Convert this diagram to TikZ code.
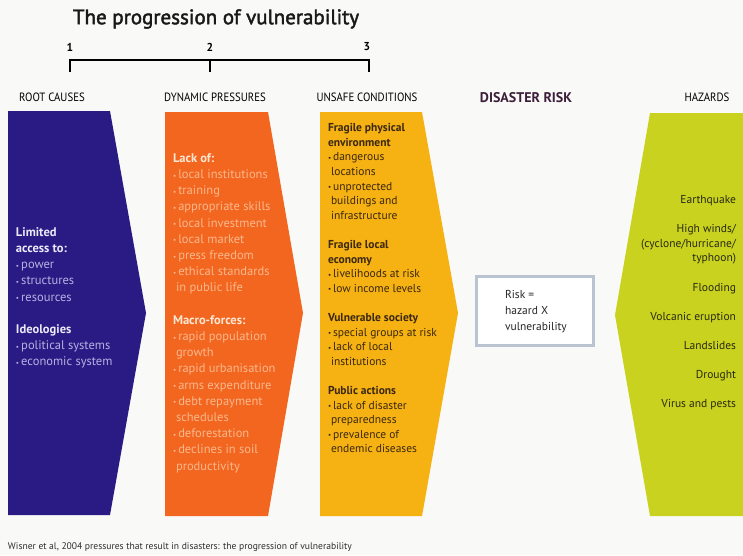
\documentclass[tikz,border=0pt]{standalone}
\usepackage{fontspec}
\setmainfont{PT Sans}
\newfontfamily\titlefont{PT Sans}[FakeBold=2]
\newfontfamily\condfont{PT Sans}[FakeStretch=0.9]
\definecolor{paper}{RGB}{249,249,247}
\definecolor{rootblue}{RGB}{42,27,132}
\definecolor{rootlight}{RGB}{184,176,226}
\definecolor{rootwhite}{RGB}{236,234,248}
\definecolor{dynorange}{RGB}{242,102,32}
\definecolor{dynlight}{RGB}{250,184,140}
\definecolor{dyncream}{RGB}{254,232,212}
\definecolor{unsafeyellow}{RGB}{246,177,18}
\definecolor{unsafeink}{RGB}{58,40,16}
\definecolor{hazardgreen}{RGB}{201,210,30}
\definecolor{hazardink}{RGB}{40,40,20}
\definecolor{riskink}{RGB}{60,30,58}
\definecolor{boxgrey}{RGB}{186,196,208}
\definecolor{inkgrey}{RGB}{45,45,45}
\newcommand{\bul}{{\scriptsize\raisebox{0.15ex}{•}}\,}
\newcommand{\cont}{\hspace{3pt}}
\begin{document}
\begin{tikzpicture}[x=1pt,y=-1pt,
  every node/.style={inner sep=0pt, outer sep=0pt},
  colhead/.style={font=\condfont\fontsize{12}{14}\selectfont, text=black},
  blocktext/.style={anchor=north west, align=left},
  bigtext/.style={blocktext, font=\fontsize{12.5}{16.2}\selectfont},
  smalltext/.style={blocktext, font=\fontsize{11.5}{14.6}\selectfont},
  stage/.style={font=\bfseries\fontsize{11.5}{13}\selectfont},
]
\useasboundingbox (0,0) rectangle (743,555);
\fill[paper] (0,0) rectangle (743,555);

% title and the 1-2-3 bracket (ticks hang down from the bar)
\node[font=\titlefont\fontsize{21}{24}\selectfont, text=black!90] (title) at (216,19) {The progression of vulnerability};
\coordinate (b1) at (70,60);
\coordinate (b2) at (210,60);
\coordinate (b3) at (369,60);
\coordinate (t1) at (70,72);
\coordinate (t2) at (210,72);
\coordinate (t3) at (369,72);
\draw[line width=2pt] (t1) -- (b1) -- (b3) -- (t3);
\draw[line width=2pt] (b2) -- (t2);
\node[stage] (n1) at (70,47) {1};
\node[stage] (n2) at (210,47) {2};
\node[stage] (n3) at (367,47) {3};

% column headings
\node[colhead] (hroot) at (52,97) {ROOT CAUSES};
\node[colhead] (hdyn) at (215,97) {DYNAMIC PRESSURES};
\node[colhead] (hunsafe) at (367,97) {UNSAFE CONDITIONS};
\node[font=\bfseries\fontsize{14}{16}\selectfont, text=riskink] (hrisk) at (526,98) {DISASTER RISK};
\node[colhead] (hhaz) at (707,97) {HAZARDS};

% chevron bands
\fill[rootblue] (8,111) -- (110,111) -- (146,313) -- (110,515) -- (8,515) -- cycle;
\fill[dynorange] (165,112) -- (268,112) -- (303,313) -- (268,516) -- (165,516) -- cycle;
\fill[unsafeyellow] (320,112) -- (422,112) -- (458,313) -- (422,516) -- (320,516) -- cycle;
\fill[hazardgreen] (650,113) -- (743,113) -- (743,516) -- (650,516) -- (615,315) -- cycle;

% root causes
\node[bigtext, text=rootlight] (roottext) at (16,227.5) {%
  \textcolor{rootwhite}{\bfseries Limited}\\
  \textcolor{rootwhite}{\bfseries access to:}\\
  \bul power\\
  \bul structures\\
  \bul resources\\[16.2pt]
  \textcolor{rootwhite}{\bfseries Ideologies}\\
  \bul political systems\\
  \bul economic system};

% dynamic pressures
\node[bigtext, text=dynlight] (dyntext) at (173,153.5) {%
  \textcolor{dyncream}{\bfseries Lack of:}\\
  \bul local institutions\\
  \bul training\\
  \bul appropriate skills\\
  \bul local investment\\
  \bul local market\\
  \bul press freedom\\
  \bul ethical standards\\
  \cont in public life\\[16.2pt]
  \textcolor{dyncream}{\bfseries Macro-forces:}\\
  \bul rapid population\\
  \cont growth\\
  \bul rapid urbanisation\\
  \bul arms expenditure\\
  \bul debt repayment\\
  \cont schedules\\
  \bul deforestation\\
  \bul declines in soil\\
  \cont productivity};

% unsafe conditions
\node[smalltext, text=unsafeink] (unsafetext) at (328,123.5) {%
  \textbf{Fragile physical}\\
  \textbf{environment}\\
  \bul dangerous\\
  \cont locations\\
  \bul unprotected\\
  \cont buildings and\\
  \cont infrastructure\\[14.6pt]
  \textbf{Fragile local}\\
  \textbf{economy}\\
  \bul livelihoods at risk\\
  \bul low income levels\\[14.6pt]
  \textbf{Vulnerable society}\\
  \bul special groups at risk\\
  \bul lack of local\\
  \cont institutions\\[14.6pt]
  \textbf{Public actions}\\
  \bul lack of disaster\\
  \cont preparedness\\
  \bul prevalence of\\
  \cont endemic diseases};

% disaster risk
\node[draw=boxgrey, line width=3pt, fill=white, minimum width=117pt, minimum height=69pt] (riskbox) at (535,311) {};
\node[smalltext, font=\fontsize{11.5}{16}\selectfont, text=black!85] (riskformula) at (505,290.5) {Risk =\\hazard X\\vulnerability};

% hazards
\node[smalltext, anchor=north east, align=right, text=hazardink] (haztext) at (736,195.5) {%
  Earthquake\\[14.6pt]
  High winds/\\
  (cyclone/hurricane/\\
  typhoon)\\[14.6pt]
  Flooding\\[14.6pt]
  Volcanic eruption\\[14.6pt]
  Landslides\\[14.6pt]
  Drought\\[14.6pt]
  Virus and pests};

% source line
\node[anchor=west, font=\fontsize{9.6}{11}\selectfont, text=inkgrey] (source) at (8,547) {Wisner et al, 2004 pressures that result in disasters: the progression of vulnerability};
\end{tikzpicture}
\end{document}
